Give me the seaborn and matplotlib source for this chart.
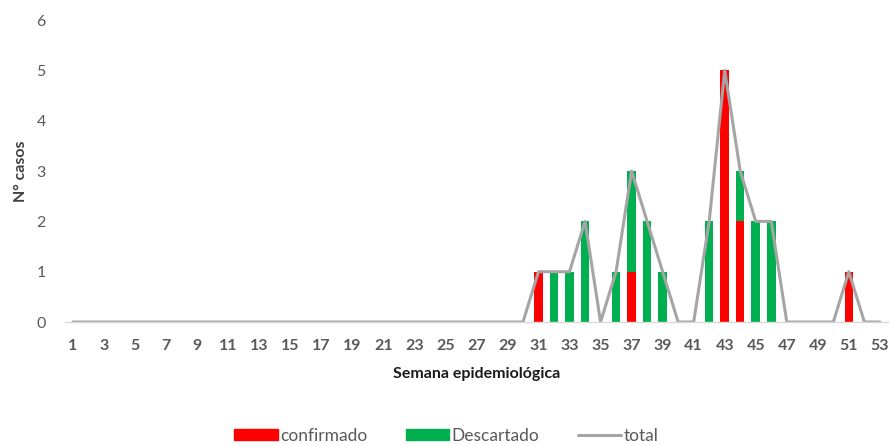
import matplotlib
matplotlib.use("Agg")
import matplotlib.pyplot as plt
import seaborn as sns
import pandas as pd
from matplotlib.patches import Patch
from matplotlib.lines import Line2D

# Weekly case counts (epidemiological weeks 1-53)
semanas = list(range(1, 54))
confirmado = [0] * 53
descartado = [0] * 53
for sem, c, d in [
    (31, 1, 0), (32, 0, 1), (33, 0, 1), (34, 0, 2),
    (36, 0, 1), (37, 1, 2), (38, 0, 2), (39, 0, 1),
    (42, 0, 2), (43, 5, 0), (44, 2, 1), (45, 0, 2), (46, 0, 2),
    (51, 1, 0),
]:
    confirmado[sem - 1] = c
    descartado[sem - 1] = d
total = [c + d for c, d in zip(confirmado, descartado)]

df = pd.DataFrame({"semana": semanas, "confirmado": confirmado,
                   "descartado": descartado, "total": total})

sns.set_theme(style="white")
plt.rcParams["font.family"] = ["Lato", "DejaVu Sans"]

RED = "#FF0000"
GREEN = "#00B050"
GRAY = "#A5A5A5"
TXT = "#595959"

fig = plt.figure(figsize=(8.93, 4.46), dpi=100)
ax = fig.add_axes([0.073, 0.278, 0.921, 0.677])

# stacked bars: full height in green, confirmed portion in red at the base
sns.barplot(data=df, x="semana", y="total", color=GREEN, native_scale=True,
            width=0.55, saturation=1, ax=ax, errorbar=None, linewidth=0)
sns.barplot(data=df, x="semana", y="confirmado", color=RED, native_scale=True,
            width=0.55, saturation=1, ax=ax, errorbar=None, linewidth=0)
sns.lineplot(data=df, x="semana", y="total", color=GRAY, linewidth=2.2, ax=ax)

ax.set_xlim(0.5, 53.5)
ax.set_ylim(0, 6)
ax.set_yticks(range(0, 7))
ax.set_xticks(semanas[::2])
ax.set_xticklabels([str(s) for s in semanas[::2]], fontweight="bold")
ax.tick_params(axis="both", length=0, labelsize=11.5, colors=TXT)
ax.tick_params(axis="x", pad=12)
ax.tick_params(axis="y", pad=14)

for side in ["top", "right", "left"]:
    ax.spines[side].set_visible(False)
ax.spines["bottom"].set_color("#D9D9D9")
ax.spines["bottom"].set_linewidth(1)

ax.set_xlabel("Semana epidemiológica", fontsize=11.5, fontweight="bold",
              color="#1a1a1a", labelpad=10)
ax.set_ylabel("N° casos", fontsize=11.5, fontweight="bold", color="#404040",
              labelpad=6)

handles = [Patch(color=RED, label="confirmado"),
           Patch(color=GREEN, label="Descartado"),
           Line2D([0], [0], color=GRAY, linewidth=2.2, label="total")]
fig.legend(handles=handles, loc="lower center", ncol=3, frameon=False,
           bbox_to_anchor=(0.5, -0.03), fontsize=12.5, handlelength=2.5,
           handleheight=0.6, columnspacing=2.2, handletextpad=0.15,
           labelcolor=TXT)

fig.savefig("out.png", dpi=100)
